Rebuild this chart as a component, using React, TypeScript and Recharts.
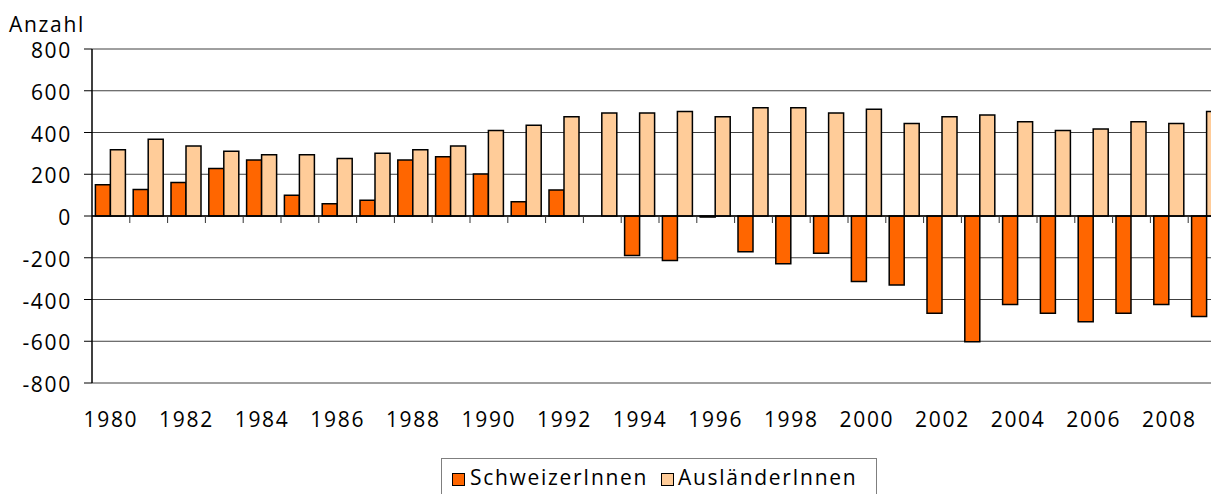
import React from 'react';
import { BarChart, Bar, XAxis, YAxis, CartesianGrid, ReferenceLine } from 'recharts';

const years = [
  '1980', '1981', '1982', '1983', '1984', '1985', '1986', '1987', '1988', '1989',
  '1990', '1991', '1992', '1993', '1994', '1995', '1996', '1997', '1998', '1999',
  '2000', '2001', '2002', '2003', '2004', '2005', '2006', '2007', '2008', '2009',
];
const schweizer = [
  150, 127, 160, 227, 268, 100, 59, 76, 268, 284,
  201, 68, 125, 0, -189, -213, -5, -171, -229, -179,
  -314, -331, -466, -602, -424, -466, -507, -466, -424, -482,
];
const auslaender = [
  317, 368, 335, 310, 293, 293, 276, 301, 317, 335,
  410, 435, 476, 493, 493, 501, 476, 519, 519, 493,
  511, 443, 476, 484, 451, 410, 417, 451, 443, 501,
];
const yTicks = [-800, -600, -400, -200, 0, 200, 400, 600, 800];
const seriesNames = ['SchweizerInnen', 'AusländerInnen'];
const seriesColors = ['#FF6600', '#FFCC99'];
const yAxisTitle = 'Anzahl';

const data = years.map((y, i) => ({ year: y, ch: schweizer[i], au: auslaender[i] }));

const FONT = '"Open Sans", "Noto Sans", sans-serif';
const FS = 21;
const LS = 1.7;

const YTick = (props: any) => {
  const { x, y, payload } = props;
  return (
    <text x={x} y={y} dy="0.44em" textAnchor="end" fill="#000" fontSize={FS} fontFamily={FONT} letterSpacing={LS}>
      {payload.value}
    </text>
  );
};

const XTick = (props: any) => {
  const { x, y, payload } = props;
  return (
    <text x={x} y={y} dy="0.71em" textAnchor="middle" fill="#000" fontSize={FS} fontFamily={FONT} letterSpacing={LS}>
      {payload.value}
    </text>
  );
};

const ZeroAxis = (props: any) => {
  const x1 = props.x1, x2 = props.x2, y1 = props.y1;
  const n = years.length;
  const step = (x2 - x1) / n;
  const ticks = [];
  for (let i = 1; i <= n; i++) {
    const tx = x1 + i * step;
    ticks.push(<line key={i} x1={tx} x2={tx} y1={y1} y2={y1 + 7} stroke="#333" strokeWidth={1} />);
  }
  return (
    <g>
      <line x1={x1} x2={x2} y1={y1} y2={y1} stroke="#000" strokeWidth={1.5} />
      {ticks}
    </g>
  );
};

export default function App() {
  return (
    <div style={{ position: 'absolute', left: 0, top: 0, width: 1211, height: 494, overflow: 'hidden', background: '#fff' }}>
      <div style={{ position: 'absolute', left: 9, top: 10, fontFamily: FONT, fontSize: FS, letterSpacing: LS, lineHeight: 'normal', color: '#000' }}>
        {yAxisTitle}
      </div>
      <BarChart
        width={1240}
        height={510}
        data={data}
        margin={{ top: 49, right: 14, left: 0, bottom: 0 }}
        barCategoryGap="9%"
        barGap={0}
      >
        <CartesianGrid horizontal vertical={false} stroke="#404040" strokeWidth={1} />
        <XAxis
          dataKey="year"
          height={127}
          axisLine={false}
          tickLine={false}
          tickSize={0}
          tickMargin={29}
          interval={1}
          tick={<XTick />}
        />
        <YAxis
          width={92}
          domain={[-800, 800]}
          ticks={yTicks}
          interval={0}
          axisLine={{ stroke: '#000', strokeWidth: 1.5 }}
          tickLine={{ stroke: '#000', strokeWidth: 1 }}
          tickSize={8}
          tickMargin={12}
          tick={<YTick />}
        />
        <Bar dataKey="ch" name={seriesNames[0]} fill={seriesColors[0]} stroke="#000" strokeWidth={1.5} isAnimationActive={false} />
        <Bar dataKey="au" name={seriesNames[1]} fill={seriesColors[1]} stroke="#000" strokeWidth={1.5} isAnimationActive={false} />
        <ReferenceLine y={0} shape={ZeroAxis} ifOverflow="extendDomain" />
      </BarChart>
      <div style={{ position: 'absolute', left: 441, top: 458, width: 434, height: 50, border: '1px solid #7f7f7f', background: '#fff', fontFamily: FONT, fontSize: FS, color: '#000' }}>
        {seriesNames.map((name, i) => (
          <React.Fragment key={name}>
            <div style={{ position: 'absolute', left: i === 0 ? 10 : 219, top: 14, width: 11, height: 11, border: '1px solid #000', background: seriesColors[i] }} />
            <div style={{ position: 'absolute', left: i === 0 ? 28 : 236, top: 4, letterSpacing: LS, lineHeight: 'normal', whiteSpace: 'nowrap' }}>
              {name}
            </div>
          </React.Fragment>
        ))}
      </div>
    </div>
  );
}
